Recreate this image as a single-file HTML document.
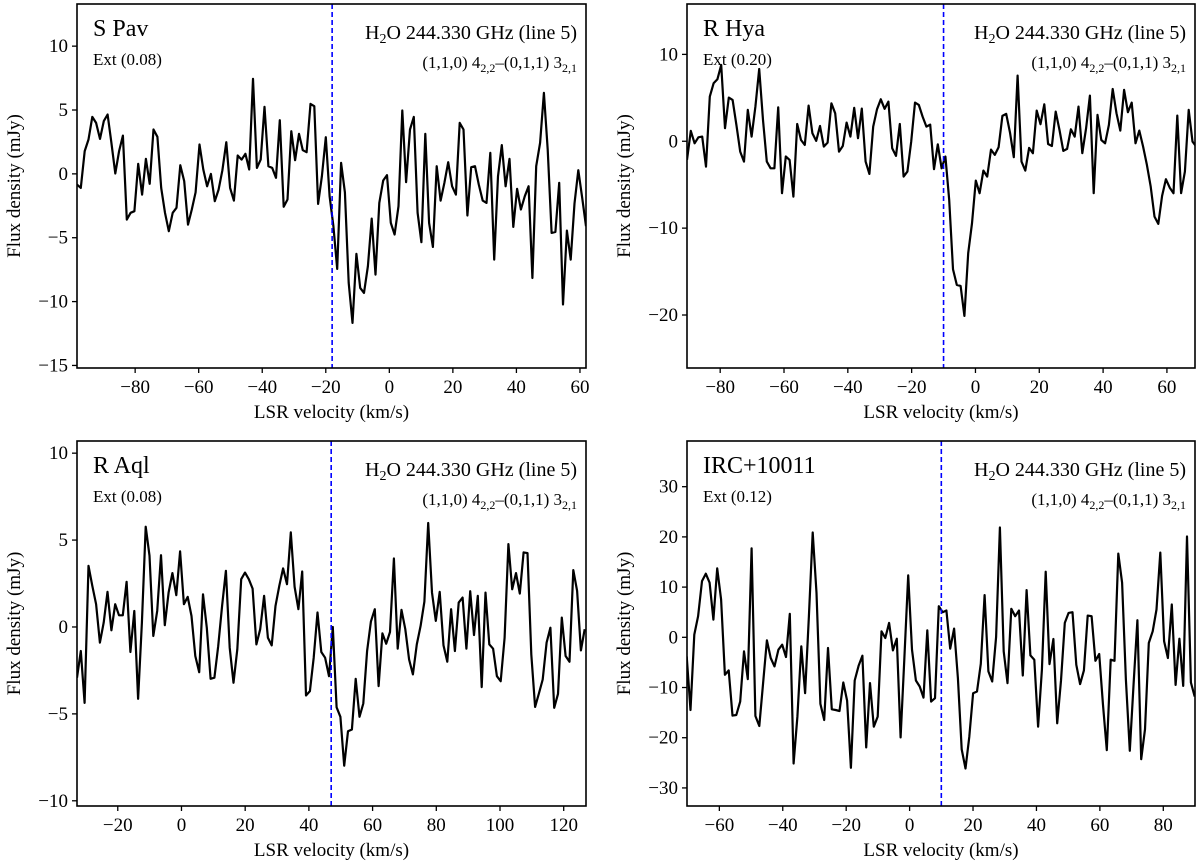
<!DOCTYPE html>
<html><head><meta charset="utf-8"><style>
html,body{margin:0;padding:0;background:#fff}
svg{display:block}
text{font-family:"Liberation Serif",serif;fill:#000}
</style></head><body>
<svg id="fig" width="1200" height="866" viewBox="0 0 1200 866" xmlns="http://www.w3.org/2000/svg"></svg>
<script>
// ---- data ----
const titles = ["S Pav","R Hya","R Aql","IRC+10011"];
const extLabels = ["Ext (0.08)","Ext (0.20)","Ext (0.08)","Ext (0.12)"];
const vStart = [-98.3,-90.4,-32.8,-70.3];
const vEnd = [61.9,69.2,126.6,89.9];
const vLine = [-18,-10,47,10];
const xLims = [[-98.3,61.9],[-90.4,68.8],[-32.8,127],[-70.2,90]];
const yLims = [[-15.2,13.3],[-26.1,15.8],[-10.3,10.7],[-33.6,39.1]];
const xTicks = [[-80,-60,-40,-20,0,20,40,60],[-80,-60,-40,-20,0,20,40,60],[-20,0,20,40,60,80,100,120],[-60,-40,-20,0,20,40,60,80]];
const yTicks = [[-15,-10,-5,0,5,10],[-20,-10,0,10],[-10,-5,0,5,10],[-30,-20,-10,0,10,20,30]];
const fluxSPav = [-0.84,-1.10,1.78,2.69,4.46,3.99,2.74,4.13,4.65,2.43,0.03,1.78,3.00,-3.58,-3.05,-2.92,0.78,-1.62,1.17,-0.78,3.47,2.90,-1.10,-3.05,-4.49,-3.05,-2.66,0.68,-0.57,-3.97,-2.79,-1.44,2.30,0.34,-0.97,0,-2.14,-1.23,0.29,2.48,-1.10,-2.09,1.44,1.12,1.57,0.34,7.44,0.47,1.12,5.25,0.60,0.47,-0.31,4.20,-2.58,-2.01,3.34,1.07,3.13,1.85,1.70,5.48,5.30,-2.35,-0.18,2.87,-1.75,-4.10,-7.44,0.86,-1.44,-8.54,-11.67,-6.27,-8.93,-9.32,-7.23,-3.50,-7.89,-2.27,-0.52,-0.10,-3.84,-4.75,-2.53,4.96,-0.65,3.47,4.46,-3.05,-5.35,3.13,-3.84,-5.72,0.60,-2.09,-0.70,0.91,-0.97,-1.62,3.99,3.47,-3.26,0.52,0.60,-0.84,-2.09,-2.27,1.64,-6.71,-0.18,2.25,-0.97,1.17,-4.15,-1.17,-2.79,-1.75,-0.97,-8.15,0.60,2.43,6.34,1.91,-4.62,-4.54,-0.70,-10.23,-4.44,-6.71,-2.32,0.29,-1.88,-4.10];
const fluxRHya = [-2.15,1.19,-0.23,0.46,0.54,-2.92,5.14,6.67,7.13,8.78,1.50,5.02,4.76,1.88,-1.19,-2.34,3.61,0.54,3.99,8.32,2.45,-2.34,-3.11,-3.11,3.91,-5.98,-1.76,-2.15,-6.37,1.99,0.15,-0.42,4.10,0.92,0.04,1.76,-0.61,-0.15,4.37,3.22,-1.19,-0.54,2.15,0.54,3.84,0.35,3.76,-2.34,-3.76,1.69,3.68,4.83,3.72,4.56,-0.81,-1.69,1.99,-4.07,-3.49,-0.04,4.45,4.18,2.84,1.69,1.92,-3.22,-0.35,-3.11,-1.76,-6.75,-14.73,-16.53,-16.65,-20.1,-12.89,-9.44,-4.53,-5.98,-3.38,-4.07,-0.96,-1.57,-0.69,2.92,3.15,1.0,-1.84,7.56,-2.34,-3.38,-0.77,-1.38,3.53,1.96,4.26,-0.31,-0.54,3.41,1.30,-1.11,-0.88,1.38,0.54,3.99,-1.38,1.50,5.26,-5.98,3.03,0.15,-0.23,1.88,6.02,3.22,1.23,5.91,3.34,4.45,-0.23,1.23,-0.61,-2.72,-5.22,-8.67,-9.51,-6.29,-4.37,-5.33,-5.98,2.95,-5.98,-3.49,3.61,-0.04,-0.61];
const fluxRAql = [-2.92,-1.38,-4.37,3.52,2.37,1.31,-0.90,0.25,2.02,-0.19,1.31,0.67,0.67,2.60,-1.44,0.92,-4.13,0.25,5.77,4.10,-0.52,0.92,4.13,0.10,1.98,3.10,1.83,4.35,1.31,1.73,0.63,-1.67,-2.60,1.88,-0.04,-2.98,-2.92,-1.10,1.21,3.23,-1.19,-3.21,-1.29,2.75,3.13,2.75,2.21,-1.0,-0.13,1.79,-0.62,-1.06,1.21,2.37,3.37,2.46,5.44,2.31,1.02,3.19,-3.94,-3.69,-1.77,0.83,-1.44,-1.77,-2.83,0,-4.62,-5.17,-7.98,-6.0,-5.90,-2.98,-5.17,-4.40,-1.38,0.31,1.02,-3.40,-0.37,-0.96,-0.29,3.94,-1.25,0.98,-0.13,-1.87,-2.73,-1.0,0.06,1.46,5.98,1.98,0.35,2.02,-1.06,-2.0,1.02,-1.38,1.40,1.69,-1.25,2.06,-0.46,1.79,-3.46,1.98,-1.0,-1.25,-2.83,-3.12,-0.62,4.77,2.17,3.10,1.92,4.29,4.25,-1.58,-4.60,-3.83,-3.02,-0.90,-0.04,-4.65,-3.85,0.54,-1.67,-2.0,3.27,2.08,-1.35,-0.13];
const fluxIRC = [-3.8,-14.47,0.53,4.2,11.2,12.67,10.87,3.53,13.73,7.53,-7.47,-6.6,-15.6,-15.47,-12.8,-2.8,-8.33,17.73,-15.67,-17.67,-9.13,-0.6,-4.13,-5.8,-2.47,-1.47,-3.93,4.67,-25.13,-15.8,-1.8,-11.13,4.2,20.87,8.87,-13.27,-16.47,-2.13,-14.33,-14.47,-14.67,-9.0,-12.6,-26.0,-8.6,-5.67,-3.67,-21.93,-9.13,-17.8,-15.8,1.2,-0.13,2.87,-2.6,-0.27,-19.93,-4,12.33,-2.47,-8.6,-9.8,-12.0,1.4,-12.8,-12.13,6.2,5.0,5.33,-2.27,1.73,-8.13,-22.33,-26.13,-19.8,-11.13,-10.8,-5.27,8.4,-6.8,-8.8,0.07,21.87,-2.8,-9.13,5.67,4.2,5.33,-7.6,9.4,-3.6,-4.47,-17.8,-6.47,13.07,-5.33,-0.33,-17.13,-8.6,2.87,4.87,5.0,-5.47,-9.33,-6.6,4.33,4.2,-4.67,-3.33,-13.47,-22.47,-4.47,-4.67,16.67,10.87,-8.47,-22.6,-9.27,3.4,-24.27,-18.33,-1.13,1.2,5.53,16.87,-0.8,-4.13,6.53,-9.47,-0.27,-9.67,20.07,-9.0,-11.8];
const fluxes = [fluxSPav,fluxRHya,fluxRAql,fluxIRC];

// ---- layout ----
const boxes = [[77,4,586,368],[687,4,1195,368],[77,441,586,806],[687,441,1195,806]];
const NS = "http://www.w3.org/2000/svg";
const svg = document.getElementById('fig');
function mk(tag, attrs, parent){
  const e = document.createElementNS(NS, tag);
  for (const k in attrs) e.setAttribute(k, attrs[k]);
  (parent||svg).appendChild(e);
  return e;
}
const fmt = v => v < 0 ? "\u2212" + Math.abs(v) : String(v);

for (let p = 0; p < 4; p++){
  const [L,T,R,B] = boxes[p];
  const [x0,x1] = xLims[p], [y0,y1] = yLims[p];
  const sx = v => L + (v - x0) / (x1 - x0) * (R - L);
  const sy = v => B - (v - y0) / (y1 - y0) * (B - T);
  const g = mk('g', {});
  
  
  const clipId = 'clip' + p;
  const cp = mk('clipPath', {id: clipId}, g);
  mk('rect', {x:L, y:T, width:R-L, height:B-T}, cp);

  const f = fluxes[p];
  const n = f.length;
  let d = "";
  for (let i = 0; i < n; i++){
    const v = vStart[p] + i * (vEnd[p] - vStart[p]) / (n - 1);
    d += (i ? "L" : "M") + sx(v).toFixed(1) + "," + sy(f[i]).toFixed(1);
  }
  const line = mk('path', {d:d, fill:'none', stroke:'#000', 'stroke-width':2.2, 'stroke-linejoin':'round', 'clip-path':'url(#'+clipId+')'}, g);
  
  

  const dl = mk('line', {x1:sx(vLine[p]), x2:sx(vLine[p]), y1:T, y2:B, stroke:'#0000ff', 'stroke-width':1.6, 'stroke-dasharray':'5,3'}, g);
  
  

  const fr = mk('rect', {x:L, y:T, width:R-L, height:B-T, fill:'none', stroke:'#000', 'stroke-width':1.6}, g);
  
  

  for (const t of xTicks[p]){
    const x = sx(t);
    const tk = mk('line', {x1:x, x2:x, y1:B, y2:B+5, stroke:'#000', 'stroke-width':1.3}, g);
    
    
    const tl = mk('text', {x:x, y:B+25, 'text-anchor':'middle', 'font-size':19}, g);
    
    
    tl.textContent = fmt(t);
  }
  for (const t of yTicks[p]){
    const y = sy(t);
    const tk = mk('line', {x1:L-5, x2:L, y1:y, y2:y, stroke:'#000', 'stroke-width':1.3}, g);
    
    
    const tl = mk('text', {x:L-9, y:y+6, 'text-anchor':'end', 'font-size':19}, g);
    
    
    tl.textContent = fmt(t);
  }
  const xt = mk('text', {x:(L+R)/2, y:B+50, 'text-anchor':'middle', 'font-size':19}, g);
  
  
  xt.textContent = "LSR velocity (km/s)";
  const yx = L - 57, yy = (T+B)/2;
  const yt = mk('text', {x:yx, y:yy, 'text-anchor':'middle', 'font-size':19, transform:'rotate(-90 '+yx+' '+yy+')'}, g);
  
  
  yt.textContent = "Flux density (mJy)";

  const st = mk('text', {x:L+16, y:T+32, 'font-size':24}, g);
  
  
  st.textContent = titles[p];
  const ex = mk('text', {x:L+16, y:T+61, 'font-size':17}, g);
  
  
  ex.textContent = extLabels[p];
  const ln = mk('text', {x:R-9, y:T+35, 'text-anchor':'end', 'font-size':20}, g);
  
  
  ln.innerHTML = 'H<tspan font-size="14" dy="4">2</tspan><tspan dy="-4">O 244.330 GHz (line 5)</tspan>';
  const tr = mk('text', {x:R-9, y:T+64, 'text-anchor':'end', 'font-size':17}, g);
  
  
  tr.innerHTML = '(1,1,0) 4<tspan font-size="12" dy="4">2,2</tspan><tspan dy="-4">\u2013(0,1,1) 3</tspan><tspan font-size="12" dy="4">2,1</tspan>';
}
</script>
</body></html>
